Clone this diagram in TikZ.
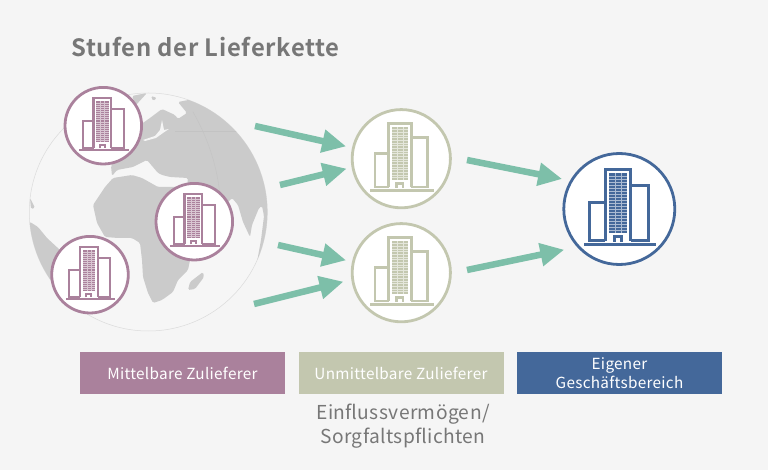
\documentclass[tikz,border=0pt]{standalone}
\usepackage{fontspec}
\usetikzlibrary{arrows.meta}
\newfontfamily\labelfont[LetterSpace=2]{Noto Sans CJK SC}
\newfontfamily\titlefont[LetterSpace=3]{Noto Sans CJK SC Bold}
\definecolor{pagegray}{HTML}{F5F5F5}
\definecolor{landgray}{HTML}{CBCBCB}
\definecolor{mauve}{HTML}{AA819C}
\definecolor{sage}{HTML}{C3C7AF}
\definecolor{navy}{HTML}{44689A}
\definecolor{teal}{HTML}{7DBFA9}
\definecolor{inkgray}{HTML}{777777}
\tikzset{
	flow/.style = {teal, line width=6.5pt, -{Triangle[length=24pt,width=22pt]}},
	stage/.style = {minimum width=205pt, minimum height=42pt, inner sep=0pt, align=center, text=white, font=\labelfont\fontsize{15.3}{19}\selectfont},
	land/.style = {fill=landgray, draw=none, rounded corners=1.5pt},
}
% circle with a tower block: name, position, scale, colour
\newcommand{\building}[4]{
	\node[circle, draw=#4, fill=white, line width=2.8pt, inner sep=0pt, minimum size=#3*111pt] (#1) at (#2) {};
	\begin{scope}[shift={(#2)}, scale=#3, draw=#4, line width=#3*3pt]
		\draw (-14.2,32) -- (-29.8,32) -- (-29.8,-6.2) -- (-14.2,-6.2);
		\draw (11.2,-23.8) -- (29.5,-23.8) -- (29.5,32) -- (11.2,32);
		\draw (-14.2,32) -- (-14.2,-39.5) -- (11.2,-39.5) -- (11.2,32);
		\fill[#4] (-10.3,-35.7) rectangle (7.7,24.3);
		\foreach \row in {1,...,19}
			\draw[#4!45!white, line width=#3*0.7pt] (-10.3,{-35.7+\row*3}) -- (7.7,{-35.7+\row*3});
		\foreach \col in {1,2}
			\draw[#4!45!white, line width=#3*0.7pt] ({-10.3+\col*6},-35.7) -- ({-10.3+\col*6},24.3);
		\draw[fill=white] (-5.3,33) -- (-5.3,27.7) -- (2,27.7) -- (2,33);
		\fill[#4] (-35,34.3) rectangle (36.7,37.2);
	\end{scope}
}
\begin{document}
\begin{tikzpicture}[x=1pt, y=-1pt]
	\useasboundingbox[fill=pagegray] (0,0) rectangle (768,470);

	\node[font=\titlefont\fontsize{23.8}{28}\selectfont, text=inkgray, anchor=west, inner sep=0pt] (title) at (71,47) {Stufen der Lieferkette};

	% globe
	\fill[white!10!pagegray] (148.3,212) circle[radius=119];
	\draw[landgray!70!white, line width=0.5pt] (148.3,212) circle[radius=119];
	\begin{scope}
		\clip (148.3,212) circle[radius=119];
		\path[land] (112,176) -- (111,166) -- (120,150) -- (140,125) -- (150,118) -- (162,109) -- (175,115) -- (178,119) -- (187,113) -- (178,102) -- (240,90) -- (300,150) -- (300,262) -- (257,262) -- (261,240) -- (264,216) -- (262,206) -- (259,208) -- (252,225) -- (250,237) -- (243,222) -- (238,205) -- (232,198) -- (215,215) -- (196,190) -- (187,187) -- (188,178) -- (170,177) -- (162,175) -- (158,173) -- (147,160) -- (133,167) -- (117,170) -- cycle;
		\path[fill=pagegray] (143,140) -- (155,136) -- (160,130) -- (162,120) -- (164,130) -- (169,129) -- (163,133) -- (156,138) -- (145,141) -- cycle;
		\path[land] (132,96) -- (147,93) -- (136,105) -- cycle;
		\path[land] (151,96) -- (157,98) -- (153,101) -- cycle;
		\path[land] (93,205) -- (105,187) -- (113,178) -- (132,175) -- (142,178) -- (158,187) -- (175,187) -- (185,185) -- (200,215) -- (205,250) -- (190,260) -- (188,270) -- (178,280) -- (173,292) -- (162,300) -- (153,303) -- (148,293) -- (143,277) -- (142,260) -- (140,243) -- (132,238) -- (118,238) -- (105,237) -- (97,223) -- cycle;
		\path[land] (203,272) -- (204,277) -- (195,289) -- (188,290) -- (190,282) -- cycle;
		\path[land] (30,222) -- (38,227) -- (47,238) -- (60,250) -- (70,280) -- (52,295) -- (20,280) -- (20,222) -- cycle;
		\path[land] (30,198) -- (35,208) -- (31,209) -- cycle;
		\draw[landgray!96!black, line width=0.4pt] (193,112) .. controls (215,150) and (222,190) .. (220,215);
		\draw[landgray!96!black, line width=0.4pt] (175,131) -- (262,131);
	\end{scope}

	\building{outerA}{103.3,125.7}{0.69}{mauve}
	\building{outerB}{194.3,221.7}{0.69}{mauve}
	\building{outerC}{90,274.7}{0.69}{mauve}
	\building{directA}{401.3,158.7}{0.885}{sage}
	\building{directB}{401.3,272.7}{0.885}{sage}
	\building{own}{619.3,209}{1}{navy}

	\coordinate (startA) at (255,126);
	\coordinate (startB) at (280,185);
	\coordinate (startC) at (278,245);
	\coordinate (startD) at (254,304);
	\coordinate (startE) at (467,160);
	\coordinate (startF) at (467,270);
	\draw[flow, shorten >=6pt] (startA) -- (directA);
	\draw[flow, shorten >=5pt] (startB) -- (directA.190);
	\draw[flow, shorten >=6pt] (startC) -- (directB);
	\draw[flow, shorten >=8pt] (startD) -- (directB.188);
	\draw[flow, shorten >=8pt] (startE) -- (own.150);
	\draw[flow, shorten >=13pt] (startF) -- (own.222);

	\node[stage, fill=mauve] (mediate) at (182.5,373) {Mittelbare Zulieferer};
	\node[stage, fill=sage] (immediate) at (401,373) {Unmittelbare Zulieferer};
	\node[stage, fill=navy] (business) at (619.5,373) {Eigener\\Geschäftsbereich};
	\node[below=0pt, text=inkgray, align=center, inner sep=0pt, font=\labelfont\fontsize{19.2}{24}\selectfont] (influence) at (403,404) {Einflussvermögen/\\Sorgfaltspflichten};
\end{tikzpicture}
\end{document}
